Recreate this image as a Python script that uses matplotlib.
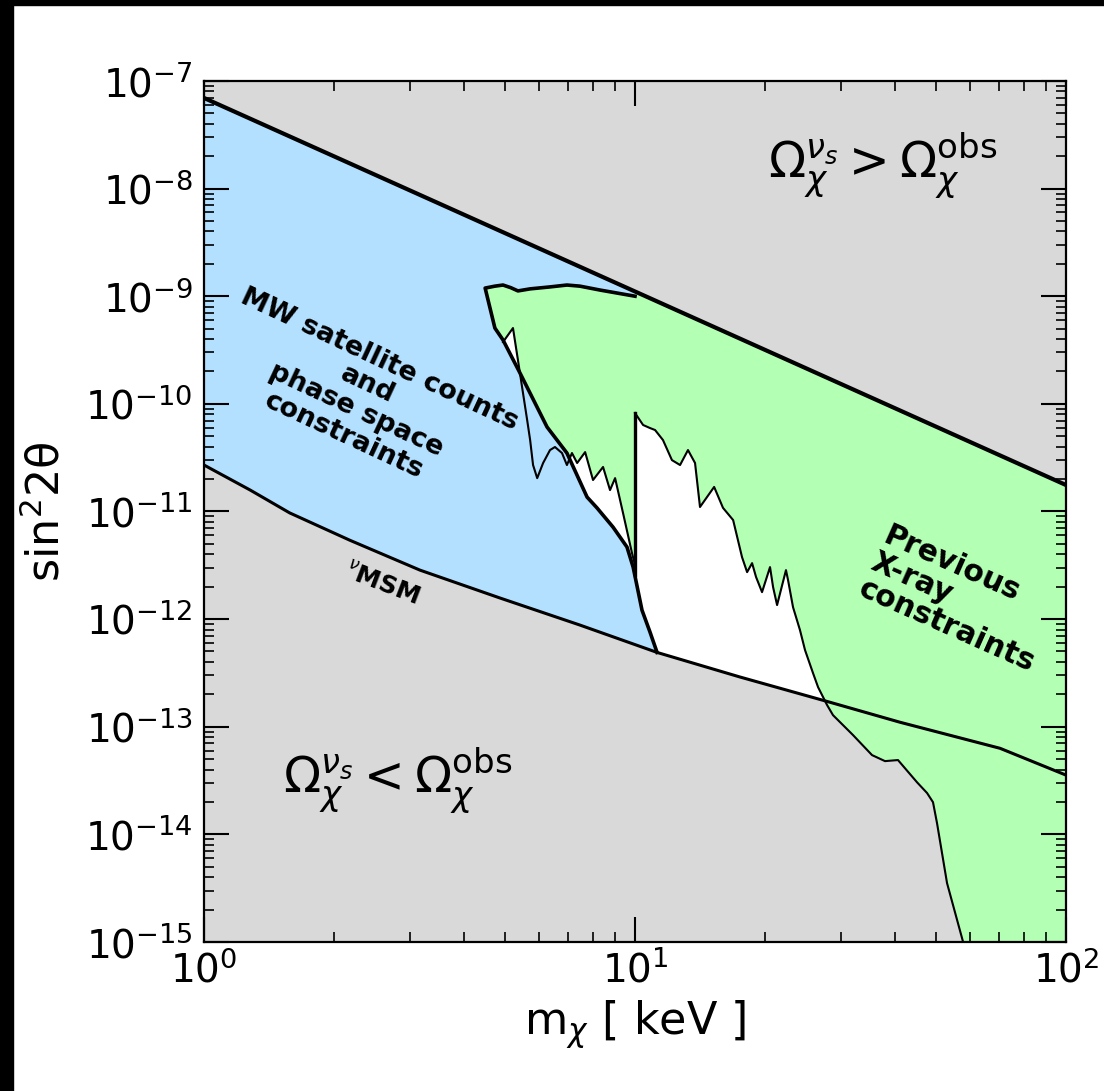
import numpy as np
import matplotlib
matplotlib.use("Agg")
import matplotlib.pyplot as plt
from matplotlib.patches import Polygon, Rectangle
from matplotlib.ticker import LogLocator, NullFormatter

# relic abundance bound  Omega_nu_s = Omega_obs  (straight in log-log)
m_upper = [1.0, 100.0]
s_upper = [6.95e-8, 1.76e-11]

# nuMSM lower bound
m_nmsm = [1.0, 1.28, 1.58, 2.18, 3.17, 4.86, 7.45, 11.25, 17.5, 28.3, 41.2, 70.3, 100.0]
s_nmsm = [2.70e-11, 1.58e-11, 9.7e-12, 5.4e-12, 2.85e-12, 1.57e-12, 8.8e-13,
          4.9e-13, 2.9e-13, 1.69e-13, 1.10e-13, 6.3e-14, 3.55e-14]

# MW satellite counts / phase space bound (top edge then falling edge)
m_mw = [10.0, 8.30, 7.45, 6.95, 6.35, 5.71, 5.35, 5.15, 4.94, 4.73, 4.49,
        4.73, 4.94, 5.41, 6.25, 6.95, 7.74, 8.16, 8.89, 9.58, 9.9, 10.38, 10.83, 11.25]
s_mw = [1.0e-9, 1.14e-9, 1.24e-9, 1.27e-9, 1.22e-9, 1.17e-9, 1.12e-9, 1.2e-9,
        1.27e-9, 1.24e-9, 1.19e-9, 5.06e-10, 3.92e-10, 1.93e-10, 6.09e-11,
        3.49e-11, 1.36e-11, 1.08e-11, 7.16e-12, 4.67e-12, 3.04e-12, 1.21e-12,
        7.6e-13, 4.9e-13]
n_top = 11

# X-ray bound below 10 keV
m_xlow = [4.94, 5.21, 5.35, 5.47, 5.62, 5.71, 5.80, 5.93, 6.12, 6.35, 6.52, 6.77,
          6.95, 7.14, 7.34, 7.66, 7.99, 8.43, 8.75, 8.99, 9.38, 9.84, 10.0]
s_xlow = [3.75e-10, 5.06e-10, 2.55e-10, 1.43e-10, 7.07e-11, 4.61e-11, 2.70e-11,
          2.04e-11, 2.82e-11, 3.72e-11, 3.97e-11, 3.49e-11, 2.70e-11, 3.49e-11,
          2.82e-11, 3.56e-11, 1.96e-11, 2.59e-11, 1.58e-11, 2.04e-11, 9.66e-12,
          4.10e-12, 3.18e-12]

# X-ray bound above 10 keV
m_xhigh = [10.0, 10.44, 10.83, 11.13, 11.61, 12.18, 12.72, 13.27, 13.78, 14.15,
           15.26, 16.0, 16.89, 17.71, 18.2, 18.69, 19.09, 19.71, 20.57, 20.91,
           21.36, 22.4, 22.65, 23.26, 24.14, 24.8, 25.88, 26.59, 27.9, 28.8,
           32.05, 35.47, 38.02, 40.75, 45.1, 47.6, 49.13, 50.2, 52.96, 57.7]
s_xhigh = [8.21e-11, 6.36e-11, 5.96e-11, 5.71e-11, 4.61e-11, 3.0e-11, 2.70e-11,
           3.72e-11, 2.82e-11, 1.10e-11, 1.69e-11, 1.08e-11, 8.32e-12, 3.77e-12,
           2.73e-12, 3.31e-12, 2.46e-12, 1.78e-12, 3.04e-12, 1.98e-12, 1.35e-12,
           2.85e-12, 2.30e-12, 1.29e-12, 7.9e-13, 5.15e-13, 3.15e-13, 2.33e-13,
           1.59e-13, 1.28e-13, 8.36e-14, 5.45e-14, 4.79e-14, 4.9e-14, 3.05e-14,
           2.42e-14, 1.99e-14, 1.27e-14, 3.52e-15, 1.0e-15]

m_edge = 10.0
s_edge_bottom = 2.57e-12

xmin, xmax = 1.0, 100.0
ymin, ymax = 1e-15, 1e-7

gray = '#d9d9d9'
blue = '#b3e0ff'
green = '#b3ffb3'


def upper(m):
    lm = np.log10(m_upper)
    ls = np.log10(s_upper)
    return 10 ** np.interp(np.log10(m), lm, ls)


fig = plt.figure(figsize=(11.04, 10.91), dpi=100)
ax = fig.add_axes([0.1848, 0.1366, 0.7808, 0.7892])
ax.set_xscale('log')
ax.set_yscale('log')
ax.set_xlim(xmin, xmax)
ax.set_ylim(ymin, ymax)
ax.set_facecolor(gray)

# allowed band between the two theory lines
mm = np.array(m_nmsm)
ax.fill_between(mm, s_nmsm, upper(mm), color='white', lw=0, zorder=0.5)

# previous X-ray constraints
top_x = m_mw[:n_top][::-1]
top_y = s_mw[:n_top][::-1]
gx = np.concatenate([top_x, [m_edge, xmax, xmax], m_xhigh[::-1], [m_edge],
                     m_xlow[::-1], [4.73]])
gy = np.concatenate([top_y, [upper(m_edge), s_upper[1], ymin], s_xhigh[::-1],
                     [s_edge_bottom], s_xlow[::-1], [5.06e-10]])
ax.add_patch(Polygon(np.column_stack([gx, gy]), closed=True, fc=green, ec='none', zorder=0.6))

# MW satellite counts + phase space
low = mm < m_mw[-1]
bx = np.concatenate([[xmin, m_edge], m_mw, mm[low][::-1]])
by = np.concatenate([[upper(xmin), upper(m_edge)], s_mw, np.array(s_nmsm)[low][::-1]])
ax.add_patch(Polygon(np.column_stack([bx, by]), closed=True, fc=blue, ec='none', zorder=0.7))

# boundary lines
ax.plot(m_upper, s_upper, color='k', lw=3.0, zorder=2)
ax.plot(m_nmsm, s_nmsm, color='k', lw=2.2, zorder=2)
ax.plot(m_mw, s_mw, color='k', lw=2.6, zorder=2)
ax.plot(m_xlow, s_xlow, color='k', lw=1.5, zorder=1.5)
ax.plot(m_xhigh, s_xhigh, color='k', lw=1.5, zorder=1.5)
ax.plot([m_edge, m_edge], [s_xhigh[0], s_edge_bottom], color='k', lw=2.4, zorder=1.5)

# region labels
ax.text(0.787, 0.902, r'$\Omega_\chi^{\nu_s} > \Omega_\chi^{\rm obs}$',
        transform=ax.transAxes, fontsize=35, ha='center', va='center', zorder=3)
ax.text(0.225, 0.188, r'$\Omega_\chi^{\nu_s} < \Omega_\chi^{\rm obs}$',
        transform=ax.transAxes, fontsize=35, ha='center', va='center', zorder=3)
ax.text(0.183, 0.632, 'MW satellite counts\nand\nphase space\nconstraints',
        transform=ax.transAxes, fontsize=19.5, fontweight='bold', rotation=-25,
        ha='center', va='center', multialignment='center', linespacing=1.1,
        rotation_mode='anchor', zorder=3)
ax.text(0.876, 0.398, 'Previous\nX-ray\nconstraints',
        transform=ax.transAxes, fontsize=21.5, fontweight='bold', rotation=-24,
        ha='center', va='center', multialignment='left', linespacing=1.0,
        rotation_mode='anchor', zorder=3)
ax.text(0.206, 0.415, r'$^\nu$MSM', transform=ax.transAxes, fontsize=18,
        fontweight='bold', rotation=-21, ha='center', va='center',
        rotation_mode='anchor', zorder=3)

ax.set_xlabel(r'm$_\chi$ [ keV ]', fontsize=32, labelpad=6)
ax.set_ylabel(r'sin$^2$2θ', fontsize=32, labelpad=12)

ax.xaxis.set_minor_locator(LogLocator(base=10, subs=np.arange(2, 10), numticks=20))
ax.yaxis.set_minor_locator(LogLocator(base=10, subs=np.arange(2, 10), numticks=20))
ax.yaxis.set_major_locator(LogLocator(base=10, numticks=20))
ax.xaxis.set_minor_formatter(NullFormatter())
ax.yaxis.set_minor_formatter(NullFormatter())
ax.tick_params(which='both', direction='in', top=True, right=True, labelsize=28)
ax.tick_params(which='major', length=18, width=1.5)
ax.tick_params(axis='y', which='major', pad=8)
ax.tick_params(axis='x', which='major', pad=6)
ax.tick_params(which='minor', length=7, width=1.2)
for sp in ax.spines.values():
    sp.set_linewidth(1.6)

# dark frame along the left and top edges
fig.add_artist(Rectangle((0, 0), 13 / 1104, 1, transform=fig.transFigure,
                         color='k', zorder=0))
fig.add_artist(Rectangle((0, 1 - 5 / 1091), 1, 5 / 1091, transform=fig.transFigure,
                         color='k', zorder=0))

fig.savefig('out.png', dpi=100)
